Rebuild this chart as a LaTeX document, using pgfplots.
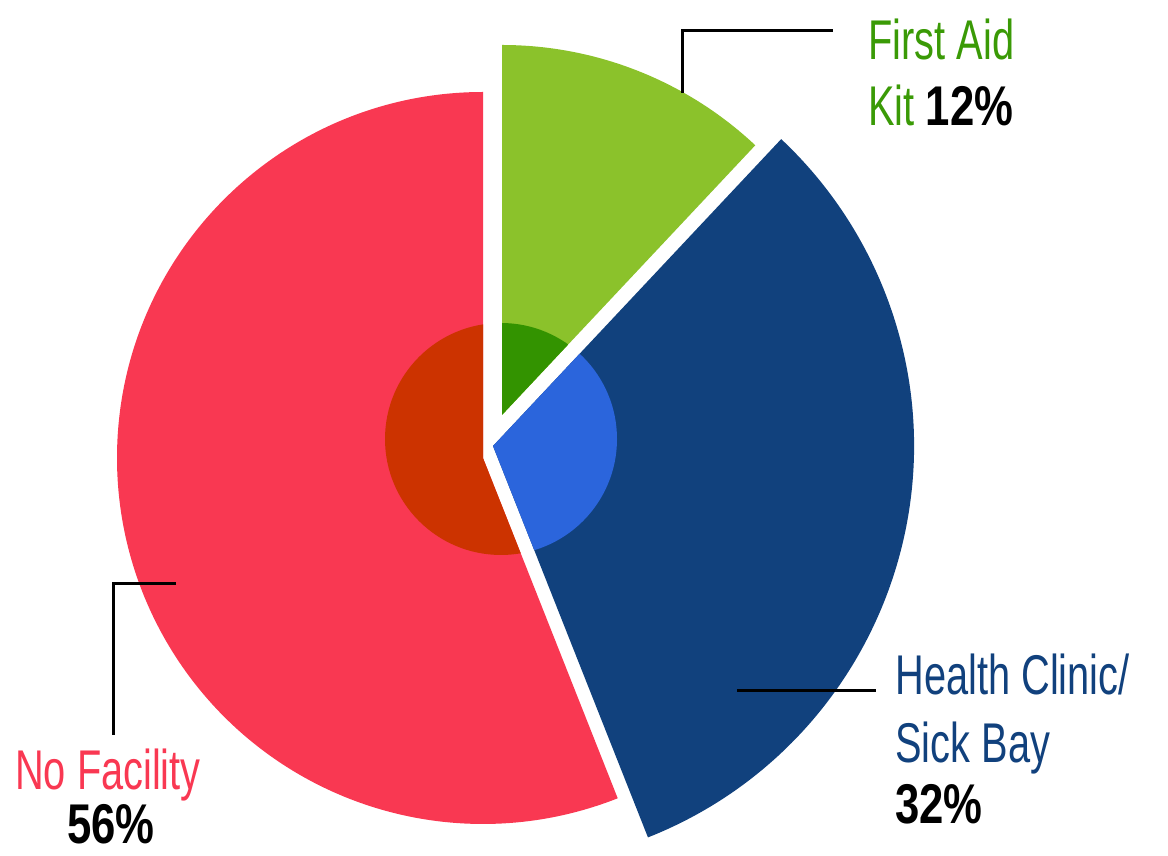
\documentclass[border=0pt]{standalone}
\usepackage{pgfplots}
\pgfplotsset{compat=1.18}
\usepackage{fontspec}
\setmainfont{Liberation Sans}
\newfontfamily\lab{Liberation Sans}[FakeStretch=0.71]
\newfontfamily\labb{Liberation Sans}[FakeStretch=0.78]
\definecolor{redO}{HTML}{F93852}
\definecolor{redI}{HTML}{CC3300}
\definecolor{greenO}{HTML}{8BC22B}
\definecolor{greenI}{HTML}{339300}
\definecolor{blueO}{HTML}{11417D}
\definecolor{blueI}{HTML}{2B65DC}
\definecolor{greenT}{HTML}{3A9A06}
% data (percent)
\def\vG{12}\def\vB{32}\def\vR{56}
\pgfmathsetmacro\aA{90}
\pgfmathsetmacro\aB{90-\vG*3.6}
\pgfmathsetmacro\aC{\aB-\vB*3.6}
\pgfmathsetmacro\aD{\aC-\vR*3.6}
% wedge: cx, cy, r, start, end
\newcommand\wedgepath[5]{(axis cs:#1,#2) -- ++(#4:#3) arc[start angle=#4, end angle=#5, radius=#3] -- cycle}
\newcommand\slice[9]{%
  \fill[#1] \wedgepath{#2}{#3}{#4}{#5}{#6};
  \begin{scope}
    \clip \wedgepath{#2}{#3}{#4}{#5}{#6};
    \fill[#7] (axis cs:#8,#9) circle[radius=58pt];
  \end{scope}}
\begin{document}
\begin{tikzpicture}
\begin{axis}[x=0.5pt,y=0.5pt,xmin=0,xmax=1168,ymin=0,ymax=856,
  hide axis,clip=false,disabledatascaling]
\slice{redO}{483}{398}{183pt}{\aD}{\aC}{redI}{501}{417}
\slice{greenO}{502}{441}{185pt}{\aB}{\aA}{greenI}{501}{417}
\slice{blueO}{493}{410}{210.5pt}{\aC}{\aB}{blueI}{501}{417}
% leader lines
\draw[black,line width=1.5pt] (axis cs:682,763) -- (axis cs:682,825) -- (axis cs:833,825);
\draw[black,line width=1.5pt] (axis cs:737,165) -- (axis cs:876,165);
\draw[black,line width=1.5pt] (axis cs:176,272) -- (axis cs:113,272) -- (axis cs:113,121);
% labels
\node[anchor=base west,inner sep=0pt,font=\lab\fontsize{28}{34}\selectfont,text=greenT] at (axis cs:868,796) {First Aid};
\node[anchor=base west,inner sep=0pt,font=\lab\fontsize{28}{34}\selectfont,text=greenT] at (axis cs:868,730) {Kit {\labb\bfseries\color{black}12\%}};
\node[anchor=base west,inner sep=0pt,font=\lab\fontsize{28}{34}\selectfont,text=blueO] at (axis cs:895,161) {Health Clinic/};
\node[anchor=base west,inner sep=0pt,font=\lab\fontsize{28}{34}\selectfont,text=blueO] at (axis cs:895,93) {Sick Bay};
\node[anchor=base west,inner sep=0pt,font=\labb\bfseries\fontsize{28}{34}\selectfont,text=black] at (axis cs:895,32) {32\%};
\node[anchor=base,inner sep=0pt,font=\lab\fontsize{28}{34}\selectfont,text=redO] at (axis cs:108,66) {No Facility};
\node[anchor=base,inner sep=0pt,font=\labb\bfseries\fontsize{28}{34}\selectfont,text=black] at (axis cs:111,12) {56\%};
\end{axis}
\pgfresetboundingbox
\path (current axis.south west) rectangle (current axis.north east);
\end{tikzpicture}
\end{document}
